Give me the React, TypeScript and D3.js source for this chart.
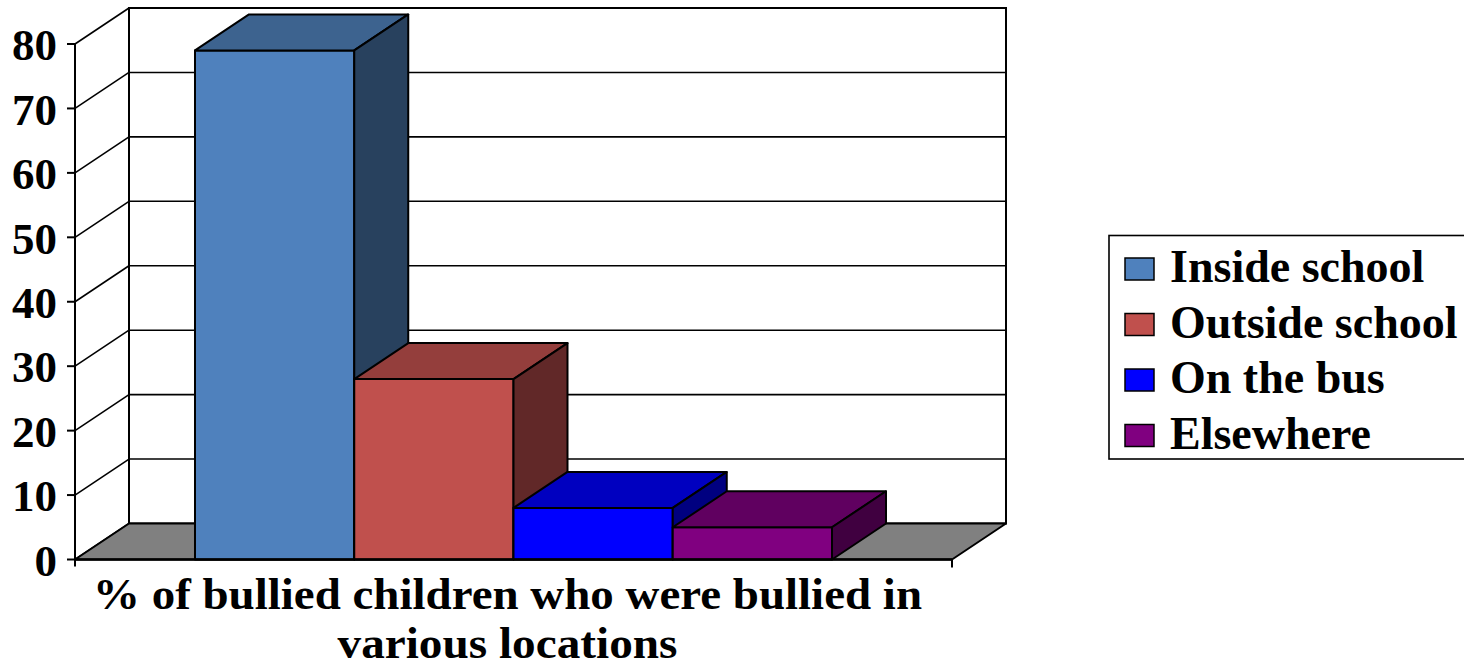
import React from "react";
import * as d3 from "d3";

const categories = ["Inside school", "Outside school", "On the bus", "Elsewhere"];
const values = [79, 28, 8, 5];
const frontColors = ["#4F81BD", "#C0504D", "#0000FF", "#800080"];
const topColors = ["#3D638F", "#943E3C", "#0000C0", "#600060"];
const sideColors = ["#28415E", "#612828", "#000080", "#400040"];
const yTicks = [0, 10, 20, 30, 40, 50, 60, 70, 80];
const titleLines = ["% of bullied children who were bullied in", "various locations"];
const titleWidths = [829, 340];

const W = 1464;
const H = 668;
const DX = 54;
const DY = -36;
const FONT = "'Liberation Serif', 'Times New Roman', serif";

export default function App() {
  const y = d3.scaleLinear().domain([0, 80]).range([559.5, 44]);
  const x = d3
    .scaleBand<string>()
    .domain(categories)
    .range([75, 952])
    .paddingInner(0)
    .paddingOuter(0.7535);

  const x0 = 75;
  const x1 = 952;
  const y0 = y(0);

  const pts = (arr: [number, number][]) => arr.map((p) => p.join(",")).join(" ");

  return (
    <svg
      width={W}
      height={H}
      style={{ position: "absolute", left: 0, top: 0, background: "#fff" }}
      fontFamily={FONT}
    >
      {/* back wall */}
      <rect x={x0 + DX} y={y(80) + DY} width={x1 - x0} height={y0 - y(80)} fill="#fff" stroke="#000" strokeWidth={2} />
      {/* gridlines on back wall and left side wall */}
      {yTicks.map((t) => (
        <g key={t}>
          {t > 0 && t < 80 && (
            <line x1={x0 + DX} x2={x1 + DX} y1={y(t) + DY} y2={y(t) + DY} stroke="#000" strokeWidth={1.6} />
          )}
          <line x1={x0} x2={x0 + DX} y1={y(t)} y2={y(t) + DY} stroke="#000" strokeWidth={1.6} />
        </g>
      ))}
      {/* floor */}
      <polygon
        points={pts([
          [x0, y0],
          [x1, y0],
          [x1 + DX, y0 + DY],
          [x0 + DX, y0 + DY],
        ])}
        fill="#808080"
        stroke="#000"
        strokeWidth={2}
        strokeLinejoin="round"
      />
      {/* bars */}
      {categories.map((c, i) => {
        const bx = x(c) as number;
        const bw = x.bandwidth();
        const by = y(values[i]);
        return (
          <g key={c} stroke="#000" strokeWidth={2} strokeLinejoin="round">
            <rect x={bx} y={by} width={bw} height={y0 - by} fill={frontColors[i]} />
            <polygon
              points={pts([
                [bx, by],
                [bx + bw, by],
                [bx + bw + DX, by + DY],
                [bx + DX, by + DY],
              ])}
              fill={topColors[i]}
            />
            <polygon
              points={pts([
                [bx + bw, by],
                [bx + bw + DX, by + DY],
                [bx + bw + DX, y0 + DY],
                [bx + bw, y0],
              ])}
              fill={sideColors[i]}
            />
          </g>
        );
      })}
      {/* front axes */}
      <line x1={x0} x2={x0} y1={y(80)} y2={y0 + 7} stroke="#000" strokeWidth={2} />
      <line x1={x0} x2={x1} y1={y0} y2={y0} stroke="#000" strokeWidth={2.5} />
      <line x1={x1} x2={x1} y1={y0} y2={y0 + 8} stroke="#000" strokeWidth={2} />
      {yTicks.map((t) => (
        <g key={"t" + t}>
          <line x1={x0 - 8} x2={x0} y1={y(t)} y2={y(t)} stroke="#000" strokeWidth={2} />
          <text
            x={57}
            y={y(t)}
            dy="0.36em"
            textAnchor="end"
            fontSize={45}
            fontWeight="bold"
            fill="#000"
          >
            {t}
          </text>
        </g>
      ))}
      {/* title */}
      {titleLines.map((l, i) => (
        <text
          key={l}
          x={507.5 - titleWidths[i] / 2}
          y={609 + i * 49}
          textLength={titleWidths[i]}
          lengthAdjust="spacingAndGlyphs"
          fontSize={45}
          fontWeight="bold"
          fill="#000"
        >
          {l}
        </text>
      ))}
      {/* legend */}
      <rect x={1109} y={235.5} width={400} height={223.5} fill="#fff" stroke="#000" strokeWidth={1.6} />
      {categories.map((c, i) => {
        const cy = 269 + i * 55.5;
        return (
          <g key={"l" + c}>
            <rect x={1125} y={cy - 11} width={29} height={22} fill={frontColors[i]} stroke="#000" strokeWidth={1.5} />
            <text x={1170} y={cy + 13} fontSize={46} fontWeight="bold" fill="#000">
              {c}
            </text>
          </g>
        );
      })}
    </svg>
  );
}
